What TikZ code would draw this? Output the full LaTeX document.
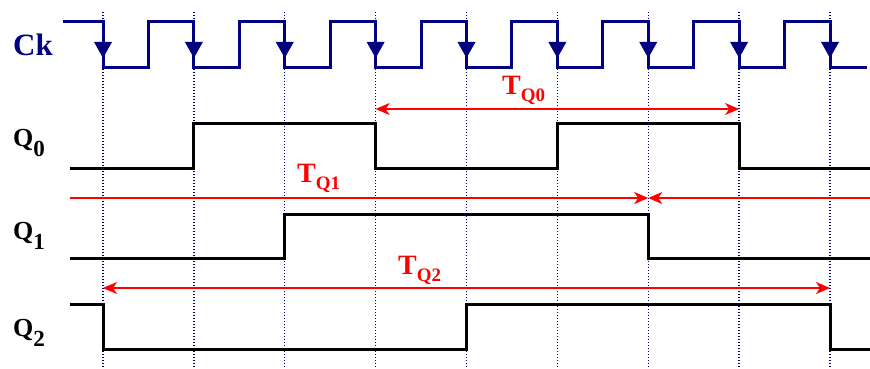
\documentclass[tikz,border=0pt]{standalone}
\usepackage{fontspec}
\setmainfont{Liberation Serif}
\usetikzlibrary{arrows.meta}
\definecolor{navy}{RGB}{0,0,128}
\definecolor{sigred}{RGB}{255,0,0}
\newcommand{\qlab}[1]{\fontsize{26}{26}\selectfont\bfseries Q\raisebox{-10pt}{\fontsize{23}{23}\selectfont #1}}
\newcommand{\tlab}[1]{\fontsize{28}{28}\selectfont\bfseries T\raisebox{-7pt}{\fontsize{19}{19}\selectfont Q#1}}
\begin{document}
\begin{tikzpicture}[x=1pt,y=-1pt,
  clk/.style={navy, line width=3pt},
  sig/.style={black, line width=3pt},
  gridline/.style={navy, line width=1.4pt, dash pattern=on 1.4pt off 1.6pt},
  span/.style={sigred, line width=1.5pt},
  onehead/.style={span, -{Stealth[length=14pt,width=12pt,inset=4pt]}},
  twohead/.style={span, {Stealth[length=14pt,width=12pt,inset=4pt]}-{Stealth[length=14pt,width=12pt,inset=4pt]}},
  lab/.style={inner sep=0pt, anchor=base west}
]
\useasboundingbox (0,0) rectangle (870,369);
% dotted grid lines at falling edges
\foreach \k in {0,...,8}{
  \pgfmathsetmacro{\xx}{103+90.875*\k}
  \draw[gridline] (\xx,12) -- (\xx,369);
}
% clock
\draw[clk] (63,22) -- (103,22) -- (103,68) -- (148.44,68) -- (148.44,22)
  -- (193.875,22) -- (193.875,68) -- (239.31,68) -- (239.31,22)
  -- (284.75,22) -- (284.75,68) -- (330.19,68) -- (330.19,22)
  -- (375.625,22) -- (375.625,68) -- (421.06,68) -- (421.06,22)
  -- (466.5,22) -- (466.5,68) -- (511.94,68) -- (511.94,22)
  -- (557.375,22) -- (557.375,68) -- (602.81,68) -- (602.81,22)
  -- (648.25,22) -- (648.25,68) -- (693.69,68) -- (693.69,22)
  -- (739.125,22) -- (739.125,68) -- (784.56,68) -- (784.56,22)
  -- (830,22) -- (830,68) -- (867,68);
\foreach \k in {0,...,8}{
  \pgfmathsetmacro{\xx}{103+90.875*\k}
  \fill[navy] (\xx-9,42) -- (\xx+9,42) -- (\xx,58) -- cycle;
}
% Q0
\draw[sig] (70,168) -- (193.875,168) -- (193.875,123) -- (375.625,123) -- (375.625,168)
  -- (557.375,168) -- (557.375,123) -- (739.125,123) -- (739.125,168) -- (870,168);
% Q1
\draw[sig] (70,258) -- (284.75,258) -- (284.75,214) -- (648.25,214) -- (648.25,258) -- (870,258);
% Q2
\draw[sig] (70,304) -- (103,304) -- (103,349) -- (466.5,349) -- (466.5,304) -- (830,304) -- (830,349) -- (870,349);
% period spans
\coordinate (a0) at (375.625,109);
\coordinate (b0) at (739.125,109);
\coordinate (a1) at (70,198);
\coordinate (m1) at (648.25,198);
\coordinate (c1) at (870,198);
\coordinate (a2) at (103,288);
\coordinate (b2) at (830,288);
\draw[twohead] (a0) -- (b0);
\draw[onehead] (a1) -- (m1);
\draw[onehead] (c1) -- (m1);
\draw[twohead] (a2) -- (b2);
% labels
\node[lab, text=navy, font=\fontsize{31}{31}\selectfont\bfseries] (ck) at (13,56) {Ck};
\node[lab] (q0) at (13,146) {\qlab{0}};
\node[lab] (q1) at (13,239) {\qlab{1}};
\node[lab] (q2) at (13,336) {\qlab{2}};
\node[lab, text=sigred] (t0) at (502,94) {\tlab{0}};
\node[lab, text=sigred] (t1) at (297,182) {\tlab{1}};
\node[lab, text=sigred] (t2) at (398,274) {\tlab{2}};
\end{tikzpicture}
\end{document}
